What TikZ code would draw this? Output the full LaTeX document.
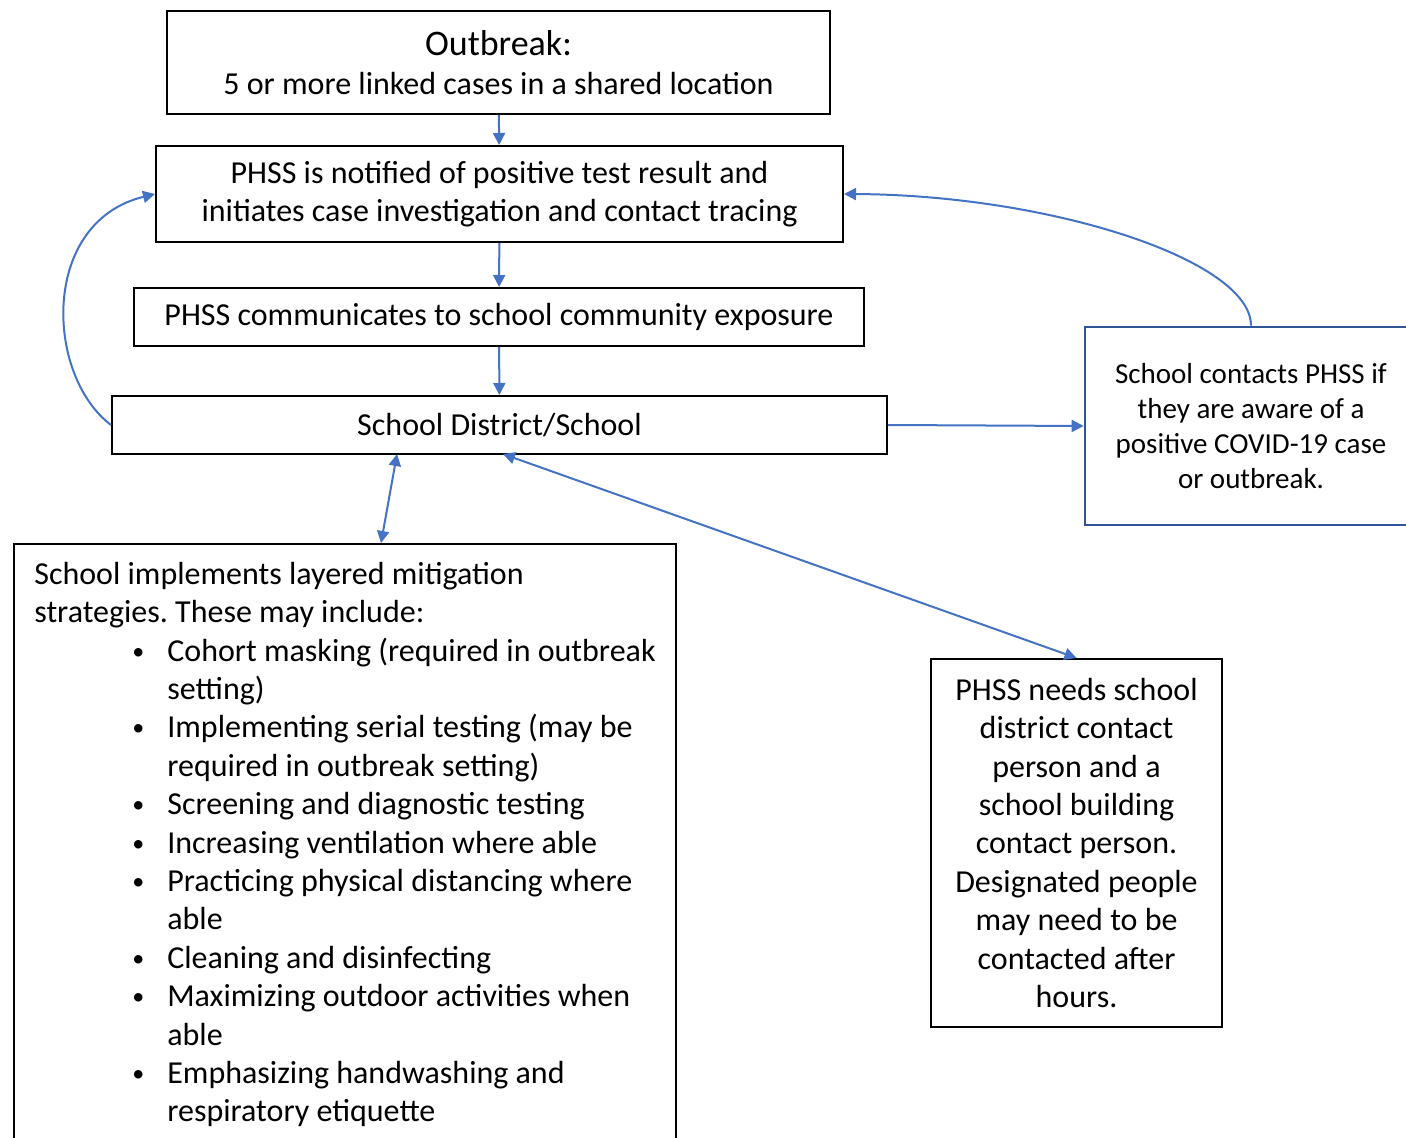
\documentclass[tikz,border=0pt]{standalone}
\usepackage{fontspec}
\setmainfont{Carlito}
\usepackage{tikz}
\usetikzlibrary{arrows.meta,positioning}
\definecolor{linkblue}{HTML}{4472C4}
\definecolor{boxblue}{HTML}{2F5597}
\newcommand{\mitem}{\hspace*{49pt}\makebox[17.5pt][l]{\raisebox{1pt}{\fontsize{12}{12}\selectfont\textbullet}}}
\newcommand{\mcont}{\hspace*{66.5pt}}
\frenchspacing

\begin{document}
\begin{tikzpicture}[
x=0.5pt,y=-0.5pt,
font=\fontsize{16}{19.2}\selectfont,
stepbox/.style={draw,line width=1pt,align=center,inner sep=0pt},
oneway/.style={-{Triangle[length=6pt,width=6pt]},draw=linkblue,line width=1pt},
twoway/.style={{Triangle[length=6pt,width=6pt]}-{Triangle[length=6pt,width=6pt]},draw=linkblue,line width=1pt}]
    % Fix the page size
    \useasboundingbox (0,0) rectangle (1406,1138);

    % Main column of boxes
    \node[stepbox,minimum width=331.5pt,minimum height=51.5pt] (outbreak) at (498.5,62.5)
        {{\fontsize{18}{21}\selectfont Outbreak:}\\5 or more linked cases in a shared location};
    \node[stepbox,minimum width=343.5pt,minimum height=48pt] (notified) at (499.5,194)
        {PHSS is notified of positive test result and\\initiates case investigation and contact tracing};
    \node[stepbox,minimum width=365pt,minimum height=29pt] (communicates) at (499,317)
        {PHSS communicates to school community exposure};
    \node[stepbox,minimum width=387.5pt,minimum height=29pt] (school) at (499.5,425)
        {School District/School};

    % Side boxes
    \node[stepbox,draw=boxblue,line width=1.3pt,minimum width=166pt,minimum height=99pt,
        font=\fontsize{14.5}{17.5}\selectfont] (contacts) at (1251,426)
        {School contacts PHSS if\\they are aware of a\\positive COVID-19 case\\or outbreak.};
    \node[stepbox,minimum width=145.5pt,minimum height=184pt] (needs) at (1076.5,843)
        {PHSS needs school\\district contact\\person and a\\school building\\contact person.\\Designated people\\may need to be\\contacted after\\hours.};
    \node[stepbox,align=left,anchor=north west,minimum width=331pt,inner xsep=8pt,inner ysep=9pt,
        text depth=8pt] (mitigation) at (13,543)
        {School implements layered mitigation\\
        strategies. These may include:\\
        \mitem Cohort masking (required in outbreak\hspace*{3pt}\\
        \mcont setting)\\
        \mitem Implementing serial testing (may be\\
        \mcont required in outbreak setting)\\
        \mitem Screening and diagnostic testing\\
        \mitem Increasing ventilation where able\\
        \mitem Practicing physical distancing where\\
        \mcont able\\
        \mitem Cleaning and disinfecting\\
        \mitem Maximizing outdoor activities when\\
        \mcont able\\
        \mitem Emphasizing handwashing and\\
        \mcont respiratory etiquette};

    % Arrows down the column
    \draw[oneway] (outbreak) -- (notified);
    \draw[oneway] (notified) -- (communicates);
    \draw[oneway] (communicates) -- (school);
    \draw[oneway] (school.east) -- (contacts.west);

    % Loops back to PHSS
    \draw[oneway] (school.west) .. controls (45,375) and (40,222) .. (notified.west);
    \draw[oneway] (contacts.north) .. controls (1251,260) and (1050,195) .. (notified.east);

    % Two-way links
    \coordinate (schoolA) at (397,454);
    \coordinate (schoolB) at (503,454);
    \draw[twoway] (schoolA) -- (mitigation.north -| 381,0);
    \draw[twoway] (schoolB) -- (needs.north);

\end{tikzpicture}
\end{document}
